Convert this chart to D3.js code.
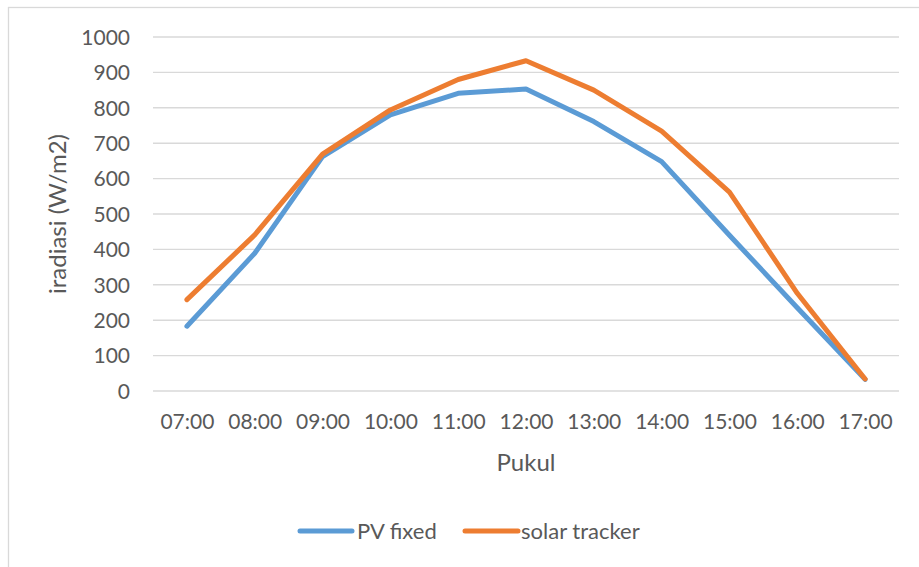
<!DOCTYPE html>
<html>
<head>
<meta charset="utf-8">
<script src="https://cdn.jsdelivr.net/npm/d3@7"></script>
<style>
  html, body { margin: 0; padding: 0; background: #fff; }
  svg text { font-family: Lato, "Open Sans", sans-serif; fill: #595959; }
</style>
</head>
<body>
<svg id="chart" width="919" height="567"></svg>
<script>
// Hourly irradiance readings (W/m2)
const hours = ["07:00", "08:00", "09:00", "10:00", "11:00", "12:00", "13:00", "14:00", "15:00", "16:00", "17:00"];
const pvFixed = [183, 389, 662, 780, 841, 853, 761, 648, 440, 235, 33];
const solarTracker = [258, 441, 669, 794, 880, 933, 850, 734, 562, 276, 34];
const yTicks = [0, 100, 200, 300, 400, 500, 600, 700, 800, 900, 1000];
const seriesNames = ["PV fixed", "solar tracker"];
const seriesColors = ["#5B9BD5", "#ED7D31"];

const svg = d3.select("#chart");
const margin = { left: 153, right: 20, top: 37, bottom: 176 };
const W = 919, H = 567;
const FONT = "Lato, 'Open Sans', sans-serif";

// Chart frame
svg.append("rect")
  .attr("x", 8.5).attr("y", 7.5)
  .attr("width", 940).attr("height", 600)
  .attr("fill", "none").attr("stroke", "#d9d9d9").attr("stroke-width", 1.3);

const x = d3.scalePoint()
  .domain(hours)
  .range([margin.left, W - margin.right])
  .padding(0.5);

const y = d3.scaleLinear()
  .domain([0, 1000])
  .range([H - margin.bottom, margin.top]);

// Horizontal gridlines
svg.append("g")
  .selectAll("line")
  .data(yTicks)
  .join("line")
  .attr("x1", margin.left).attr("x2", W - margin.right)
  .attr("y1", d => y(d)).attr("y2", d => y(d))
  .attr("stroke", "#d9d9d9").attr("stroke-width", 1.4);

// Y axis labels
const yAxis = d3.axisLeft(y).tickValues(yTicks).tickFormat(d3.format("d")).tickSize(0).tickPadding(0);
const gy = svg.append("g").attr("transform", `translate(130,0)`).call(yAxis);
gy.select(".domain").remove();
gy.selectAll("text").attr("font-size", 21).style("font-family", FONT).attr("fill", "#595959").attr("dy", "0.35em");

// X axis labels
const xAxis = d3.axisBottom(x).tickSize(0).tickPadding(0);
const gx = svg.append("g").attr("transform", `translate(0,${y(0) + 30.5})`).call(xAxis);
gx.select(".domain").remove();
gx.selectAll("text").attr("font-size", 21).style("font-family", FONT).attr("fill", "#595959").attr("dy", "0.35em");

// Axis titles
svg.append("text")
  .attr("x", (margin.left + W - margin.right) / 2)
  .attr("y", 471)
  .attr("text-anchor", "middle")
  .attr("font-size", 24)
  .text("Pukul");

svg.append("text")
  .attr("transform", `translate(66,${(y(0) + y(1000)) / 2}) rotate(-90)`)
  .attr("text-anchor", "middle")
  .attr("font-size", 24)
  .text("iradiasi (W/m2)");

// Series lines
const line = d3.line()
  .x((d, i) => x(hours[i]))
  .y(d => y(d));

[pvFixed, solarTracker].forEach((vals, k) => {
  svg.append("path")
    .datum(vals)
    .attr("d", line)
    .attr("fill", "none")
    .attr("stroke", seriesColors[k])
    .attr("stroke-width", 5)
    .attr("stroke-linejoin", "round")
    .attr("stroke-linecap", "round");
});

// Legend
const legendItems = [
  { name: seriesNames[0], color: seriesColors[0], x1: 300, x2: 352, tx: 357 },
  { name: seriesNames[1], color: seriesColors[1], x1: 465, x2: 518, tx: 521 }
];
const lg = svg.append("g");
legendItems.forEach(it => {
  lg.append("line")
    .attr("x1", it.x1).attr("x2", it.x2)
    .attr("y1", 531).attr("y2", 531)
    .attr("stroke", it.color).attr("stroke-width", 5)
    .attr("stroke-linecap", "round");
  lg.append("text")
    .attr("x", it.tx).attr("y", 531)
    .attr("dy", "0.35em")
    .attr("font-size", 22)
    .text(it.name);
});
</script>
</body>
</html>
